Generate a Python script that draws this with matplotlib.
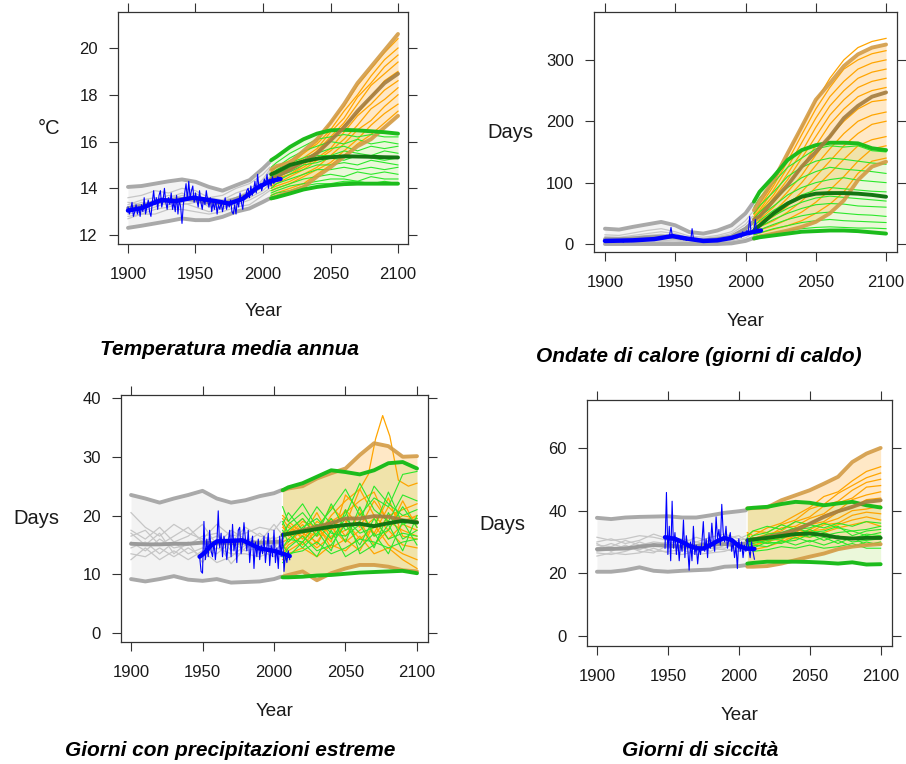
import numpy as np
import matplotlib
matplotlib.use('Agg')
import matplotlib.pyplot as plt

plt.rcParams['font.family'] = ['Liberation Sans', 'DejaVu Sans']

W, H = 906, 764

# --- time grids ---
hist_years = [1900, 1910, 1920, 1930, 1940, 1950, 1960, 1970, 1980, 1990, 2000, 2005]
fut_years = [2006, 2010, 2020, 2030, 2040, 2050, 2060, 2070, 2080, 2090, 2100]

# ================= Panel 1: Temperatura media annua =================
t_grey_up = [14.06, 14.1, 14.2, 14.3, 14.38, 14.28, 14.06, 13.9, 14.13, 14.35, 14.85, 15.13]
t_grey_lo = [12.31, 12.4, 12.5, 12.6, 12.71, 12.64, 12.64, 12.78, 13.0, 13.14, 13.42, 13.57]
t_grey_mean = [13.15, 13.25, 13.4, 13.5, 13.55, 13.5, 13.4, 13.35, 13.55, 13.75, 14.15, 14.35]
t_grey_members = [
    [13.6, 13.7, 13.9, 13.8, 14.0, 13.9, 13.6, 13.7, 14.0, 14.2, 14.6, 14.9],
    [13.4, 13.3, 13.5, 13.7, 13.6, 13.8, 13.4, 13.5, 13.8, 14.0, 14.3, 14.7],
    [13.2, 13.4, 13.3, 13.6, 13.8, 13.5, 13.5, 13.3, 13.6, 13.9, 14.2, 14.5],
    [13.0, 13.2, 13.4, 13.3, 13.5, 13.6, 13.2, 13.4, 13.5, 13.7, 14.1, 14.4],
    [12.9, 13.0, 13.2, 13.4, 13.3, 13.4, 13.3, 13.1, 13.4, 13.6, 13.9, 14.2],
    [12.8, 12.9, 13.1, 13.2, 13.4, 13.2, 13.0, 13.2, 13.3, 13.5, 13.8, 14.0],
    [12.7, 12.9, 12.9, 13.1, 13.1, 13.0, 12.9, 13.0, 13.2, 13.3, 13.7, 13.9],
    [13.3, 13.5, 13.6, 13.5, 13.7, 13.6, 13.6, 13.5, 13.6, 13.8, 14.4, 14.8],
]
t_or_up = [14.8, 14.95, 15.1, 15.6, 16.1, 16.8, 17.6, 18.5, 19.2, 19.9, 20.6]
t_or_mean = [14.4, 14.5, 14.8, 15.15, 15.5, 16.05, 16.6, 17.3, 17.9, 18.5, 18.9]
t_or_lo = [13.57, 13.65, 13.85, 14.05, 14.5, 14.9, 15.35, 15.8, 16.1, 16.6, 17.1]
t_gr_up = [15.2, 15.35, 15.77, 16.1, 16.34, 16.48, 16.5, 16.48, 16.44, 16.4, 16.34]
t_gr_mean = [14.6, 14.7, 15.0, 15.15, 15.27, 15.33, 15.37, 15.36, 15.35, 15.33, 15.32]
t_gr_lo = [13.57, 13.62, 13.78, 13.95, 14.06, 14.13, 14.18, 14.2, 14.2, 14.2, 14.2]
t_or_members = [
    [14.7, 14.9, 15.2, 15.5, 16.0, 16.8, 17.5, 18.4, 19.1, 19.8, 20.4],
    [14.6, 14.7, 15.0, 15.5, 15.9, 16.5, 17.3, 18.0, 18.8, 19.5, 20.0],
    [14.5, 14.6, 14.9, 15.3, 15.7, 16.4, 17.0, 17.9, 18.5, 19.2, 19.7],
    [14.4, 14.6, 14.8, 15.1, 15.6, 16.2, 16.8, 17.6, 18.4, 18.9, 19.4],
    [14.3, 14.4, 14.6, 15.0, 15.5, 16.0, 16.7, 17.2, 17.9, 18.6, 19.0],
    [14.2, 14.4, 14.6, 14.9, 15.3, 15.7, 16.4, 17.1, 17.6, 18.2, 18.6],
    [14.1, 14.2, 14.5, 14.8, 15.2, 15.6, 16.1, 16.7, 17.4, 17.8, 18.3],
    [14.0, 14.1, 14.3, 14.6, 14.9, 15.4, 15.9, 16.5, 16.9, 17.5, 18.0],
    [13.9, 14.0, 14.2, 14.5, 14.8, 15.1, 15.6, 16.1, 16.7, 17.2, 17.6],
    [13.7, 13.8, 14.0, 14.2, 14.6, 15.0, 15.4, 15.9, 16.3, 16.8, 17.3],
]
t_gr_members = [
    [14.9, 15.1, 15.5, 15.8, 16.1, 16.2, 16.3, 16.2, 16.3, 16.2, 16.2],
    [14.8, 14.9, 15.3, 15.6, 15.8, 16.0, 15.9, 16.1, 15.9, 16.0, 15.9],
    [14.6, 14.8, 15.1, 15.3, 15.5, 15.7, 15.8, 15.6, 15.8, 15.7, 15.8],
    [14.5, 14.6, 14.9, 15.2, 15.4, 15.4, 15.6, 15.5, 15.4, 15.6, 15.5],
    [14.3, 14.5, 14.7, 15.0, 15.1, 15.3, 15.2, 15.4, 15.3, 15.2, 15.3],
    [14.2, 14.3, 14.6, 14.8, 15.0, 15.0, 15.1, 15.0, 15.2, 15.1, 15.0],
    [14.0, 14.2, 14.4, 14.6, 14.8, 14.8, 14.9, 14.8, 14.9, 14.8, 14.9],
    [13.9, 14.0, 14.2, 14.4, 14.5, 14.6, 14.5, 14.7, 14.6, 14.7, 14.6],
    [13.8, 13.9, 14.1, 14.2, 14.3, 14.4, 14.4, 14.3, 14.5, 14.4, 14.4],
    [13.7, 13.8, 13.9, 14.1, 14.2, 14.2, 14.3, 14.3, 14.2, 14.3, 14.2],
]
t_obs_start = 1900
t_obs = [
    13.2, 12.9, 13.1, 13.4, 12.8, 13.0, 13.3, 12.9, 13.2, 12.8,
    13.3, 13.0, 13.6, 12.9, 13.2, 13.5, 13.0, 12.8, 13.4, 13.9,
    13.3, 13.6, 13.1, 13.7, 13.9, 13.2, 13.5, 14.0, 13.4, 13.1,
    13.6, 13.3, 13.8, 13.1, 13.4, 13.0, 13.7, 12.9, 13.5, 13.2,
    12.5, 13.3, 13.8, 14.2, 13.5, 14.3, 13.6, 13.9, 14.1, 13.4,
    13.8, 13.5, 13.2, 13.9, 13.4, 13.1, 13.6, 13.3, 13.9, 13.5,
    13.2, 13.6, 13.0, 13.4, 13.1, 13.5, 12.9, 13.3, 13.1, 13.4,
    13.0, 13.3, 13.6, 13.1, 13.4, 13.2, 13.5, 13.0, 12.9, 13.3,
    12.9, 13.5, 13.2, 13.8, 13.4, 13.1, 13.7, 13.6, 13.9, 14.0,
    13.6, 14.1, 13.7, 13.9, 14.3, 13.8, 14.6, 14.0, 14.2, 13.9,
    14.1, 14.4, 14.2, 14.6, 14.0, 14.3, 14.1, 14.5, 14.2, 14.4,
    14.3, 14.5, 14.4, 14.4,
]
t_smooth_years = [1900, 1910, 1920, 1925, 1935, 1948, 1960, 1975, 1985, 1995, 2005, 2013]
t_smooth = [13.05, 13.15, 13.4, 13.5, 13.45, 13.6, 13.5, 13.35, 13.55, 14.0, 14.3, 14.4]

# ================= Panel 2: Ondate di calore =================
h_grey_up = [25, 23.5, 28, 32, 36, 30.5, 19.6, 17, 22, 30.5, 50, 66]
h_grey_lo = [0, 0, 0, 0, 0, 0, 0, 0, 0, 1, 5, 9]
h_grey_mean = [8, 8, 9, 11, 12, 11, 8, 6, 8, 12, 25, 35]
h_grey_members = [
    [15, 14, 18, 22, 25, 20, 13, 11, 14, 20, 38, 52],
    [12, 11, 14, 17, 20, 17, 10, 9, 12, 17, 32, 45],
    [10, 9, 12, 14, 16, 14, 8, 7, 10, 14, 27, 38],
    [8, 8, 10, 12, 13, 11, 7, 5, 8, 11, 22, 32],
    [6, 6, 8, 9, 11, 9, 5, 4, 6, 9, 18, 27],
    [4, 5, 6, 7, 9, 7, 4, 3, 5, 7, 14, 22],
    [3, 3, 4, 5, 6, 5, 3, 2, 3, 5, 10, 17],
    [2, 2, 3, 3, 4, 3, 2, 1, 2, 3, 7, 12],
]
h_or_up = [55, 70, 104, 148, 191, 235, 262, 290, 309, 320, 325]
h_or_mean = [40, 45, 71, 96, 126, 150, 175, 205, 225, 240, 247]
h_or_lo = [9, 12, 17, 22, 28, 36, 50, 71, 104, 126, 134]
h_gr_up = [69, 85, 110, 137, 153, 161, 165, 165, 164, 156, 153]
h_gr_mean = [22, 30, 50, 66, 77, 82, 83, 83, 82, 80, 77]
h_gr_lo = [9, 11, 14, 17, 20, 21, 22, 22, 21, 19, 17]
h_or_members = [
    [50, 65, 100, 145, 190, 232, 270, 300, 320, 330, 335],
    [48, 60, 95, 135, 178, 220, 255, 285, 300, 310, 315],
    [45, 55, 88, 125, 165, 205, 240, 265, 285, 295, 300],
    [42, 52, 80, 115, 150, 190, 225, 250, 270, 280, 285],
    [40, 48, 75, 105, 140, 175, 210, 235, 255, 265, 270],
    [38, 45, 68, 95, 125, 160, 195, 220, 240, 250, 255],
    [35, 40, 60, 85, 112, 145, 175, 200, 220, 232, 235],
    [32, 36, 52, 75, 100, 128, 155, 180, 200, 210, 215],
    [28, 32, 45, 62, 85, 110, 135, 160, 180, 195, 200],
    [25, 28, 38, 52, 70, 92, 115, 138, 160, 170, 175],
    [20, 23, 30, 40, 52, 68, 88, 110, 135, 155, 160],
    [15, 18, 24, 30, 38, 50, 65, 85, 115, 135, 140],
]
h_gr_members = [
    [60, 75, 100, 125, 140, 155, 160, 158, 160, 152, 150],
    [50, 62, 85, 110, 125, 135, 140, 138, 135, 132, 130],
    [42, 52, 72, 92, 108, 118, 125, 122, 120, 118, 115],
    [35, 45, 62, 80, 92, 100, 105, 108, 104, 102, 100],
    [30, 38, 55, 68, 80, 88, 92, 90, 88, 86, 85],
    [26, 32, 46, 58, 68, 75, 78, 76, 74, 72, 70],
    [22, 28, 40, 50, 58, 64, 66, 65, 62, 61, 60],
    [18, 23, 32, 40, 46, 50, 52, 50, 48, 47, 45],
    [15, 18, 25, 30, 35, 38, 40, 38, 37, 36, 35],
    [12, 14, 18, 22, 25, 27, 28, 27, 26, 26, 25],
    [10, 12, 15, 18, 20, 21, 22, 21, 20, 19, 18],
]
h_obs_start = 1900
h_obs = [
    4, 5, 3, 6, 4, 5, 3, 4, 6, 5,
    4, 6, 5, 3, 5, 7, 4, 5, 6, 4,
    6, 5, 7, 8, 6, 5, 7, 9, 6, 7,
    8, 7, 9, 6, 8, 10, 7, 9, 11, 8,
    10, 12, 9, 11, 14, 13, 15, 27, 12, 14,
    11, 9, 13, 10, 8, 9, 7, 8, 6, 9,
    7, 6, 25, 8, 5, 6, 4, 5, 6, 5,
    5, 4, 6, 3, 5, 4, 6, 5, 4, 6,
    5, 7, 6, 8, 6, 7, 9, 8, 10, 7,
    12, 9, 14, 11, 10, 15, 13, 11, 20, 14,
    18, 22, 19, 45, 17, 20, 22, 40, 19, 21,
    24, 20,
]
h_smooth_years = [1900, 1920, 1935, 1948, 1958, 1970, 1980, 1990, 2000, 2011]
h_smooth = [5, 6, 8, 13, 9, 5, 6, 10, 17, 22]

# ================= Panel 3: Giorni con precipitazioni estreme =================
p_grey_up = [23.5, 22.9, 22.2, 22.9, 23.5, 24.2, 22.9, 22.2, 22.6, 23.3, 23.8, 24.3]
p_grey_lo = [9.2, 8.8, 9.2, 9.7, 9.1, 8.9, 9.2, 8.6, 8.7, 8.8, 9.2, 9.6]
p_grey_mean = [15.2, 15.1, 15.1, 15.2, 15.2, 15.4, 15.3, 15.3, 15.4, 15.4, 15.5, 15.6]
p_grey_members = [
    [20.5, 18.0, 16.5, 18.5, 17.0, 16.0, 18.5, 16.5, 17.0, 18.0, 17.5, 19.0],
    [17.5, 16.0, 18.0, 15.5, 16.5, 18.5, 15.0, 17.5, 16.0, 15.5, 18.5, 17.0],
    [16.5, 17.5, 15.0, 16.5, 18.0, 15.5, 16.5, 15.5, 18.0, 16.5, 16.0, 16.5],
    [15.5, 14.0, 16.0, 14.5, 15.0, 16.5, 17.0, 14.0, 15.5, 17.0, 15.0, 15.5],
    [14.5, 15.5, 13.5, 15.5, 13.5, 14.5, 13.5, 15.5, 14.0, 14.5, 16.5, 14.5],
    [13.5, 13.0, 14.5, 13.0, 14.5, 13.0, 14.5, 13.5, 13.5, 13.0, 14.0, 15.0],
    [12.5, 14.5, 12.5, 14.0, 12.5, 14.0, 12.0, 13.0, 15.0, 14.0, 13.0, 14.0],
    [17.0, 15.0, 17.0, 13.5, 15.5, 12.0, 15.5, 11.8, 14.5, 15.5, 14.5, 16.0],
]
p_or_up = [24.3, 24.6, 25.0, 26.3, 27.2, 28.0, 30.3, 32.3, 31.8, 30.0, 30.1]
p_or_mean = [16.7, 16.9, 17.5, 18.1, 18.7, 19.5, 19.5, 19.9, 19.8, 19.2, 18.9]
p_or_lo = [9.6, 9.9, 10.5, 9.0, 10.2, 11.0, 11.6, 11.6, 11.3, 10.7, 10.5]
p_gr_up = [24.3, 24.8, 25.5, 26.6, 27.7, 27.4, 27.0, 27.7, 28.9, 29.1, 28.0]
p_gr_mean = [16.7, 16.9, 17.3, 17.7, 18.1, 18.4, 18.6, 18.2, 18.7, 19.1, 18.8]
p_gr_lo = [9.5, 9.5, 9.6, 9.8, 9.9, 10.1, 10.3, 10.4, 10.5, 10.6, 10.2]
p_or_members = [
    [17.0, 18.5, 16.0, 19.0, 17.5, 21.0, 18.0, 22.5, 19.0, 17.5, 16.5],
    [15.5, 16.0, 18.5, 15.0, 19.5, 16.5, 20.5, 17.0, 21.5, 19.0, 20.0],
    [19.5, 18.0, 16.5, 20.5, 16.0, 18.5, 24.5, 20.0, 17.5, 22.5, 18.0],
    [14.5, 15.5, 17.5, 16.5, 18.0, 15.5, 17.5, 19.5, 16.0, 18.5, 17.5],
    [16.0, 17.5, 15.0, 17.5, 21.5, 19.0, 16.0, 18.0, 23.0, 16.5, 16.0],
    [13.5, 15.0, 16.5, 14.5, 16.5, 17.5, 19.0, 15.0, 17.5, 15.0, 14.5],
    [18.5, 16.5, 19.0, 18.0, 15.5, 23.5, 21.0, 16.5, 20.0, 21.0, 22.0],
    [15.0, 14.0, 15.5, 18.5, 14.5, 16.0, 14.0, 18.5, 15.0, 13.5, 12.5],
    [20.0, 19.0, 17.0, 15.5, 19.0, 20.5, 22.5, 24.0, 18.5, 20.0, 19.5],
    [12.5, 13.5, 14.5, 13.0, 15.0, 14.0, 16.5, 13.5, 14.5, 12.5, 11.0],
]
# the one member with the peak around 2076
p_or_spike_years = [2006, 2010, 2020, 2030, 2040, 2050, 2060, 2066, 2071, 2076, 2081, 2087, 2094, 2100]
p_or_spike = [18.0, 17.0, 19.5, 16.5, 20.0, 22.5, 24.5, 27.0, 33.0, 37.0, 33.5, 26.0, 25.0, 25.5]
p_gr_members = [
    [21.5, 19.0, 22.0, 18.0, 21.0, 24.5, 20.0, 23.0, 21.5, 27.0, 27.5],
    [18.5, 20.5, 17.5, 21.5, 18.5, 20.0, 25.5, 21.0, 19.0, 23.5, 22.5],
    [16.0, 17.5, 19.5, 16.5, 22.0, 17.5, 19.0, 25.0, 22.0, 20.0, 21.0],
    [14.5, 16.0, 15.5, 18.5, 16.0, 19.5, 17.0, 18.0, 24.0, 18.5, 19.5],
    [19.0, 17.0, 14.5, 17.0, 19.5, 15.5, 21.5, 16.5, 17.5, 21.5, 18.0],
    [13.0, 14.5, 16.5, 14.0, 15.0, 18.5, 15.0, 19.5, 16.0, 17.0, 16.5],
    [17.5, 15.5, 18.0, 19.5, 17.0, 16.5, 18.5, 14.5, 20.5, 16.0, 17.5],
    [15.0, 13.5, 14.0, 15.5, 13.5, 14.5, 16.0, 15.5, 14.5, 15.5, 16.0],
    [12.0, 13.0, 15.5, 13.0, 17.5, 13.0, 14.5, 17.0, 13.5, 19.0, 15.0],
    [16.5, 18.5, 20.5, 17.5, 14.0, 21.0, 13.5, 15.0, 18.5, 14.0, 20.0],
]
p_obs_start = 1948
p_obs = [
    13.0, 10.5, 10.2, 19.0, 12.5, 16.0, 13.0, 17.5, 14.0, 13.0,
    15.5, 12.5, 15.0, 20.8, 14.5, 17.0, 13.0, 16.5, 15.0, 12.5,
    15.5, 17.5, 13.0, 18.5, 14.0, 16.0, 12.0, 17.5, 18.0, 13.5,
    15.5, 18.8, 16.0, 14.0, 17.5, 12.0, 15.0, 16.5, 11.0, 15.5,
    13.0, 16.0, 12.5, 15.0, 13.5, 16.5, 12.0, 14.5, 17.0, 11.5,
    15.0, 13.0, 17.5, 12.0, 14.5, 11.0, 16.5, 13.0, 17.0, 10.5,
    13.5, 12.0, 14.0, 12.5,
]
p_smooth_years = [1948, 1952, 1956, 1960, 1970, 1978, 1985, 1990, 2000, 2005, 2011]
p_smooth = [13.0, 13.8, 14.9, 15.6, 15.7, 15.8, 15.0, 14.4, 14.0, 13.6, 13.1]

# ================= Panel 4: Giorni di siccità =================
d_grey_up = [37.7, 37.3, 37.8, 38.0, 38.1, 38.2, 37.8, 37.8, 38.5, 39.3, 39.8, 40.1]
d_grey_lo = [20.5, 20.5, 21.0, 21.9, 20.8, 20.5, 20.8, 21.0, 21.2, 22.1, 22.3, 22.6]
d_grey_mean = [27.7, 27.8, 27.9, 28.5, 29.0, 28.8, 28.5, 28.8, 29.2, 29.3, 29.3, 29.5]
d_grey_members = [
    [31.5, 30.5, 31.0, 32.0, 31.5, 30.5, 31.0, 30.0, 31.5, 32.5, 31.0, 32.0],
    [30.0, 31.0, 29.5, 30.5, 32.5, 31.0, 29.5, 31.5, 30.0, 31.0, 32.0, 30.5],
    [29.0, 28.5, 30.5, 29.0, 30.0, 29.5, 30.5, 29.0, 30.5, 29.5, 30.5, 31.0],
    [28.0, 29.5, 28.0, 30.0, 28.5, 30.0, 28.0, 30.0, 29.0, 30.5, 29.0, 29.5],
    [27.0, 27.5, 28.5, 27.5, 29.5, 28.0, 29.0, 27.5, 28.5, 28.0, 30.0, 28.5],
    [26.5, 26.0, 27.0, 28.5, 27.0, 27.0, 27.5, 28.5, 27.0, 29.0, 28.0, 28.0],
    [25.5, 26.5, 26.0, 26.5, 28.0, 26.5, 26.0, 27.0, 28.0, 27.5, 27.0, 27.5],
    [29.5, 27.0, 29.0, 27.0, 26.5, 29.0, 27.5, 26.0, 26.5, 27.0, 28.5, 29.0],
]
d_or_up = [40.7, 40.8, 41.0, 43.3, 44.9, 46.5, 48.6, 50.8, 55.5, 58.2, 60.0]
d_or_mean = [30.5, 30.8, 31.6, 32.5, 33.8, 35.8, 38.0, 39.8, 41.2, 42.8, 43.3]
d_or_lo = [22.1, 22.1, 22.3, 23.1, 24.2, 25.3, 26.3, 27.7, 28.5, 29.0, 29.3]
d_gr_up = [40.7, 40.9, 41.2, 42.1, 42.8, 42.5, 41.7, 42.3, 42.8, 41.7, 41.0]
d_gr_mean = [30.5, 30.8, 31.3, 31.9, 32.5, 32.7, 32.2, 31.4, 31.1, 31.3, 31.3]
d_gr_lo = [23.1, 23.3, 23.7, 23.7, 23.7, 23.6, 23.4, 23.1, 23.5, 22.8, 22.9]
d_or_members = [
    [33.0, 32.0, 34.5, 36.0, 38.5, 41.0, 44.5, 46.0, 49.5, 52.5, 54.0],
    [31.5, 33.5, 33.0, 35.5, 37.0, 40.5, 42.0, 45.5, 48.0, 50.5, 52.0],
    [30.0, 31.0, 32.5, 33.5, 36.5, 38.0, 41.5, 43.0, 46.5, 49.0, 50.0],
    [32.5, 30.5, 31.5, 34.5, 35.0, 37.5, 39.0, 42.5, 44.0, 47.5, 48.0],
    [29.0, 30.0, 30.5, 32.0, 34.5, 36.0, 38.5, 40.0, 43.5, 45.0, 46.0],
    [31.0, 29.5, 32.0, 31.5, 33.0, 35.5, 36.5, 39.5, 41.0, 43.5, 44.0],
    [28.5, 31.5, 29.5, 33.0, 32.5, 34.0, 36.0, 37.5, 40.0, 40.5, 41.5],
    [30.5, 28.5, 31.0, 30.5, 34.0, 33.0, 35.5, 36.0, 38.5, 39.5, 39.0],
    [27.5, 29.0, 30.0, 31.5, 31.0, 33.5, 34.0, 35.5, 37.0, 38.0, 37.0],
    [29.5, 27.5, 28.5, 30.0, 32.0, 31.5, 33.0, 34.5, 35.5, 36.5, 35.0],
]
d_gr_members = [
    [32.0, 33.5, 35.0, 34.0, 36.5, 35.5, 34.5, 36.0, 35.0, 36.5, 36.0],
    [30.5, 32.0, 33.0, 35.5, 34.0, 34.5, 36.0, 34.5, 33.5, 34.0, 35.0],
    [31.5, 30.0, 32.5, 33.0, 34.5, 33.0, 33.5, 35.0, 32.0, 33.5, 34.0],
    [29.0, 31.0, 31.0, 32.5, 32.0, 34.0, 32.0, 33.0, 33.5, 32.0, 33.0],
    [30.0, 29.5, 30.5, 31.0, 33.0, 31.5, 33.0, 31.5, 31.0, 32.5, 32.0],
    [28.5, 30.5, 29.5, 30.0, 30.5, 32.5, 30.5, 32.0, 30.0, 30.5, 31.0],
    [31.0, 28.0, 30.0, 29.5, 31.5, 30.0, 31.5, 29.5, 31.5, 29.0, 30.0],
    [27.5, 29.0, 28.5, 30.5, 29.0, 30.5, 29.0, 30.5, 28.5, 30.0, 29.0],
    [29.5, 27.0, 27.5, 28.5, 28.0, 29.0, 28.0, 28.5, 29.5, 28.0, 28.0],
]
d_obs_start = 1948
d_obs = [
    28, 45.8, 26, 35, 24, 43, 28, 33, 26, 31,
    24, 30, 27, 37, 25, 32, 28, 21, 30, 24,
    35, 26, 29, 23, 28, 26, 30, 36.5, 27, 31,
    25, 33, 28, 36, 30, 27, 38, 31, 34, 29,
    42, 33, 30, 35, 28, 31, 33, 27, 30, 25,
    29, 21.5, 31, 27, 30, 25, 29, 27, 31, 28,
    25, 30, 27, 24.5,
]
d_smooth_years = [1948, 1955, 1960, 1965, 1970, 1975, 1980, 1985, 1990, 1995, 2000, 2005, 2011]
d_smooth = [31.5, 31.0, 30.0, 28.8, 28.0, 27.9, 29.0, 30.3, 31.3, 30.6, 28.7, 27.9, 27.8]

# --- colours ---
C_GREY_FILL = '#f3f3f3'
C_GREY_THIN = '#c6c6c6'
C_GREY_ENV = '#a9a9a9'
C_GREY_MEAN = '#9a9a9a'
C_OR_THIN = '#ffa500'
C_OR_ENV = '#d39b45'
C_OR_MEAN = '#a37c3e'
C_GR_THIN = '#2be82b'
C_GR_ENV = '#1cbc1c'
C_GR_MEAN = '#137513'
C_BLUE = '#0000ff'


def draw_panel(ax, grey, orange, green, obs, smooth, extra_orange=None):
    g_up, g_lo, g_mean, g_mem = grey
    o_up, o_mean, o_lo, o_mem = orange
    n_up, n_mean, n_lo, n_mem = green

    # historical runs
    ax.fill_between(hist_years, g_lo, g_up, color=C_GREY_FILL, lw=0, zorder=1)
    for m in g_mem:
        ax.plot(hist_years, m, color=C_GREY_THIN, lw=0.9, zorder=2)
    for s in (g_up, g_lo):
        ax.plot(hist_years, s, color=C_GREY_ENV, lw=2.8, solid_capstyle='round', zorder=3)
    ax.plot(hist_years, g_mean, color=C_GREY_MEAN, lw=2.8, solid_capstyle='round', zorder=3)

    # scenario bands
    ax.fill_between(fut_years, n_lo, n_up, color='#a8e05a', alpha=0.22, lw=0, zorder=1)
    ax.fill_between(fut_years, o_lo, o_up, color='#ffa51e', alpha=0.25, lw=0, zorder=1)

    for m in o_mem:
        ax.plot(fut_years, m, color=C_OR_THIN, lw=0.9, zorder=4)
    if extra_orange is not None:
        ax.plot(extra_orange[0], extra_orange[1], color=C_OR_THIN, lw=0.9, zorder=4)
    for m in n_mem:
        ax.plot(fut_years, m, color=C_GR_THIN, lw=0.8, zorder=4)

    for s in (o_up, o_lo):
        ax.plot(fut_years, s, color=C_OR_ENV, lw=2.8, alpha=0.9, solid_capstyle='round', zorder=5)
    for s in (n_up, n_lo):
        ax.plot(fut_years, s, color=C_GR_ENV, lw=2.8, solid_capstyle='round', zorder=5)
    ax.plot(fut_years, o_mean, color=C_OR_MEAN, lw=2.8, alpha=0.9, solid_capstyle='round', zorder=6)
    ax.plot(fut_years, n_mean, color=C_GR_MEAN, lw=2.8, solid_capstyle='round', zorder=6)

    # observations
    start, vals = obs
    yrs = start + np.arange(len(vals))
    ax.plot(yrs, vals, color=C_BLUE, lw=0.8, zorder=7)
    ax.plot(smooth[0], smooth[1], color=C_BLUE, lw=3.2, solid_capstyle='round', zorder=8)


def style_axis(ax, xlim, ylim, yticks):
    ax.set_xlim(*xlim)
    ax.set_ylim(*ylim)
    ax.set_xticks([1900, 1950, 2000, 2050, 2100])
    ax.set_yticks(yticks)
    ax.tick_params(direction='out', top=True, right=True, labeltop=False, labelright=False,
                   length=6.5, width=0.8, labelsize=12, labelcolor='#1a1a1a', color='#333333')
    ax.tick_params(axis='x', pad=10)
    ax.tick_params(axis='y', pad=8)
    for sp in ax.spines.values():
        sp.set_color('#333333')
        sp.set_linewidth(0.9)


def rect(l, t, r, b):
    return [l / W, 1 - b / H, (r - l) / W, (b - t) / H]


def label(x, y, s, **kw):
    fig.text(x / W, 1 - y / H, s, ha='center', va='center', **kw)


fig = plt.figure(figsize=(W / 100, H / 100), dpi=100)

ax1 = fig.add_axes(rect(118, 12, 408, 244))
draw_panel(ax1, (t_grey_up, t_grey_lo, t_grey_mean, t_grey_members),
           (t_or_up, t_or_mean, t_or_lo, t_or_members),
           (t_gr_up, t_gr_mean, t_gr_lo, t_gr_members),
           (t_obs_start, t_obs), (t_smooth_years, t_smooth))
style_axis(ax1, (1892.6, 2107.4), (11.62, 21.54), [12, 14, 16, 18, 20])

ax2 = fig.add_axes(rect(594, 12, 897, 252))
draw_panel(ax2, (h_grey_up, h_grey_lo, h_grey_mean, h_grey_members),
           (h_or_up, h_or_mean, h_or_lo, h_or_members),
           (h_gr_up, h_gr_mean, h_gr_lo, h_gr_members),
           (h_obs_start, h_obs), (h_smooth_years, h_smooth))
style_axis(ax2, (1892.2, 2107.8), (-13, 378), [0, 100, 200, 300])

ax3 = fig.add_axes(rect(121, 395, 428, 642))
draw_panel(ax3, (p_grey_up, p_grey_lo, p_grey_mean, p_grey_members),
           (p_or_up, p_or_mean, p_or_lo, p_or_members),
           (p_gr_up, p_gr_mean, p_gr_lo, p_gr_members),
           (p_obs_start, p_obs), (p_smooth_years, p_smooth),
           extra_orange=(p_or_spike_years, p_or_spike))
style_axis(ax3, (1893, 2107.7), (-1.5, 40.5), [0, 10, 20, 30, 40])

ax4 = fig.add_axes(rect(587, 400, 892, 646))
draw_panel(ax4, (d_grey_up, d_grey_lo, d_grey_mean, d_grey_members),
           (d_or_up, d_or_mean, d_or_lo, d_or_members),
           (d_gr_up, d_gr_mean, d_gr_lo, d_gr_members),
           (d_obs_start, d_obs), (d_smooth_years, d_smooth))
style_axis(ax4, (1893, 2108), (-3.2, 75.3), [0, 20, 40, 60])

# axis labels and titles
lab = dict(fontsize=14.5, color='#1a1a1a')
label(49, 128, '°C', **lab)
label(510, 133, 'Days', **lab)
label(36, 519, 'Days', **lab)
label(502, 524, 'Days', **lab)

yl = dict(fontsize=13.5, color='#1a1a1a')
label(264, 312, 'Year', **yl)
label(746, 322, 'Year', **yl)
label(275, 712, 'Year', **yl)
label(740, 716, 'Year', **yl)

tt = dict(fontsize=15, fontweight='bold', fontstyle='italic', color='black')
label(229, 350, 'Temperatura media annua', **tt)
label(699, 357, 'Ondate di calore (giorni di caldo)', **tt)
label(230, 750, 'Giorni con precipitazioni estreme', **tt)
label(700, 750, 'Giorni di siccità', **tt)

fig.savefig('out.png', dpi=100)
